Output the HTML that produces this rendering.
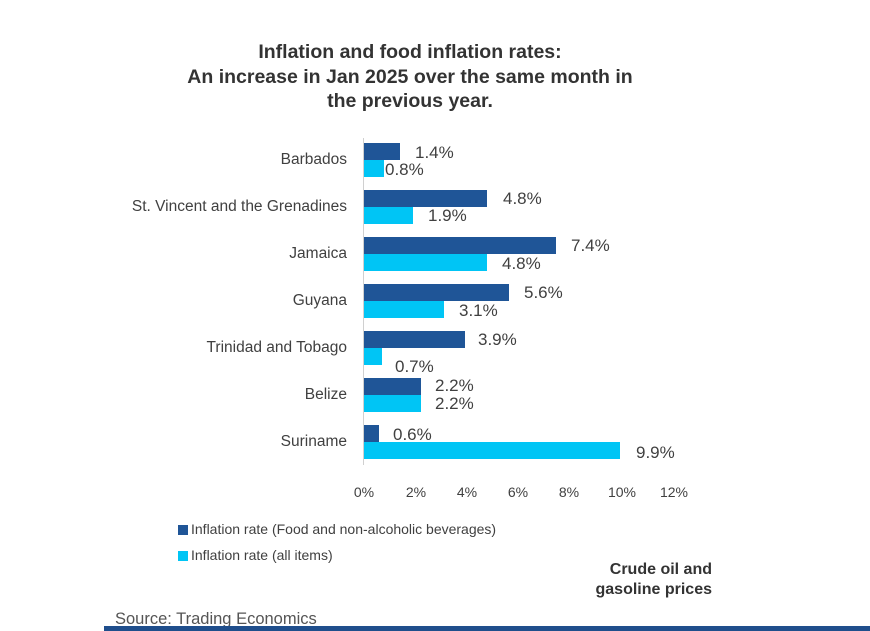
<!DOCTYPE html>
<html><head><style>
body{margin:0;width:870px;height:631px;background:#fff;overflow:hidden;position:relative;font-family:"Liberation Sans",Arial,sans-serif}
.t{position:absolute;white-space:nowrap}
.title{left:110px;width:600px;text-align:center;font-weight:bold;font-size:19.5px;color:#333;line-height:24.5px;top:40px}
.cat{right:523px;font-size:15.5px;color:#404040;transform:translateY(-50%)}
.v{font-size:17px;color:#404040;transform:translateY(-50%)}
.b{position:absolute;left:364px;height:17px}
.d{background:#1f5597}.l{background:#00c5f5}
.ax{font-size:14px;color:#404040;top:484px;transform:translateX(-50%)}
</style></head><body>
<div class="t title">Inflation and food inflation rates:<br>An increase in Jan 2025 over the same month in<br>the previous year.</div>
<div style="position:absolute;left:363px;top:138px;width:1px;height:327px;background:#d0d0d0"></div>
<div class="b d" style="top:143px;width:36px"></div><div class="b l" style="top:160px;width:20px"></div>
<div class="b d" style="top:190px;width:123px"></div><div class="b l" style="top:207px;width:49px"></div>
<div class="b d" style="top:237px;width:192px"></div><div class="b l" style="top:254px;width:123px"></div>
<div class="b d" style="top:284px;width:145px"></div><div class="b l" style="top:301px;width:80px"></div>
<div class="b d" style="top:331px;width:101px"></div><div class="b l" style="top:348px;width:18px"></div>
<div class="b d" style="top:378px;width:57px"></div><div class="b l" style="top:395px;width:57px"></div>
<div class="b d" style="top:425px;width:15px"></div><div class="b l" style="top:442px;width:256px"></div>
<div class="t cat" style="top:160px">Barbados</div>
<div class="t cat" style="top:207px">St. Vincent and the Grenadines</div>
<div class="t cat" style="top:254px">Jamaica</div>
<div class="t cat" style="top:301px">Guyana</div>
<div class="t cat" style="top:348px">Trinidad and Tobago</div>
<div class="t cat" style="top:395px">Belize</div>
<div class="t cat" style="top:442px">Suriname</div>
<div class="t v" style="left:415px;top:153px">1.4%</div><div class="t v" style="left:385px;top:170px">0.8%</div>
<div class="t v" style="left:503px;top:199px">4.8%</div><div class="t v" style="left:428px;top:216px">1.9%</div>
<div class="t v" style="left:571px;top:246px">7.4%</div><div class="t v" style="left:502px;top:264px">4.8%</div>
<div class="t v" style="left:524px;top:293px">5.6%</div><div class="t v" style="left:459px;top:311px">3.1%</div>
<div class="t v" style="left:478px;top:340px">3.9%</div><div class="t v" style="left:395px;top:367px">0.7%</div>
<div class="t v" style="left:435px;top:386px">2.2%</div><div class="t v" style="left:435px;top:404px">2.2%</div>
<div class="t v" style="left:393px;top:435px">0.6%</div><div class="t v" style="left:636px;top:453px">9.9%</div>
<div class="t ax" style="left:364px">0%</div><div class="t ax" style="left:416px">2%</div><div class="t ax" style="left:467px">4%</div><div class="t ax" style="left:518px">6%</div><div class="t ax" style="left:569px">8%</div><div class="t ax" style="left:622px">10%</div><div class="t ax" style="left:674px">12%</div>
<div style="position:absolute;left:178px;top:525px;width:10px;height:10px;background:#1f5597"></div>
<div class="t" style="left:191px;top:521px;font-size:14px;color:#404040">Inflation rate (Food and non-alcoholic beverages)</div>
<div style="position:absolute;left:178px;top:551px;width:10px;height:10px;background:#00c5f5"></div>
<div class="t" style="left:191px;top:547px;font-size:14px;color:#404040">Inflation rate (all items)</div>
<div class="t" style="right:158px;top:560px;font-size:16px;font-weight:bold;color:#333;text-align:right;line-height:20px">Crude oil and<br>gasoline prices</div>
<div class="t" style="left:115px;top:610px;font-size:16.5px;color:#555">Source: Trading Economics</div>
<div style="position:absolute;left:104px;top:626px;width:766px;height:5px;background:#1f4e8c"></div>
</body></html>
